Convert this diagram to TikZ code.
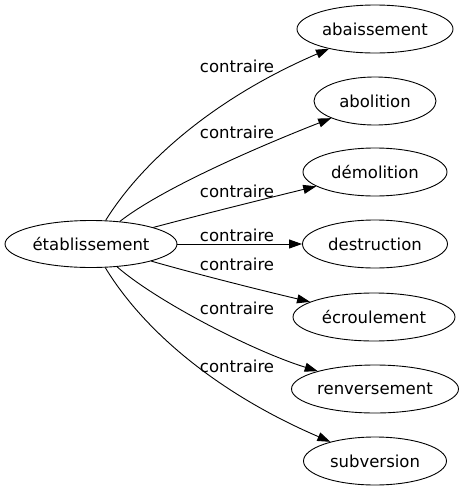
\documentclass[tikz,border=0pt]{standalone}
\usepackage{fontspec}
\setmainfont{DejaVu Sans}
\usetikzlibrary{arrows.meta}
\usetikzlibrary{shapes.geometric}
\tikzstyle{word} = [draw,ellipse,inner sep=0pt,line width=0.9pt,minimum height=48pt,font=\fontsize{16.5}{19}\selectfont]
\tikzstyle{rel} = [anchor=base,inner sep=0pt,font=\fontsize{16.5}{19}\selectfont]
\tikzstyle{link} = [line width=0.9pt,-{Triangle[length=13pt,width=9pt]}]

\begin{document}
\begin{tikzpicture}[x=1pt,y=-1pt]
 \useasboundingbox (0,0) rectangle (464,491);
    % Draw the words
    \node[word,minimum width=172pt,minimum height=47pt] (etab) at (91,244) {établissement};
    \node[word,minimum width=156pt] (abai) at (375,29) {abaissement};
    \node[word,minimum width=122pt] (abol) at (375,101) {abolition};
    \node[word,minimum width=144pt] (demo) at (375,172) {démolition};
    \node[word,minimum width=145pt] (dest) at (375,244) {destruction};
    \node[word,minimum width=162pt] (ecro) at (374,317) {écroulement};
    \node[word,minimum width=167pt] (renv) at (375,389) {renversement};
    \node[word,minimum width=143pt] (subv) at (375,461) {subversion};

    % Draw the links
    \draw[link] (etab) .. controls (140,165) and (210,100) .. (abai);
    \draw[link] (etab) .. controls (160,190) and (250,150) .. (abol);
    \draw[link] (etab) .. controls (200,215) and (260,200) .. (demo);
    \draw[link] (etab) -- (dest);
    \draw[link] (etab) .. controls (200,275) and (260,290) .. (ecro);
    \draw[link] (etab) .. controls (155,300) and (250,350) .. (renv);
    \draw[link] (etab) .. controls (140,325) and (210,390) .. (subv);

    \node[rel] (r1) at (237,72) {contraire};
    \node[rel] (r2) at (237,138) {contraire};
    \node[rel] (r3) at (237,197) {contraire};
    \node[rel] (r4) at (237,241) {contraire};
    \node[rel] (r5) at (237,270) {contraire};
    \node[rel] (r6) at (237,314) {contraire};
    \node[rel] (r7) at (237,372) {contraire};

\end{tikzpicture}
\end{document}
